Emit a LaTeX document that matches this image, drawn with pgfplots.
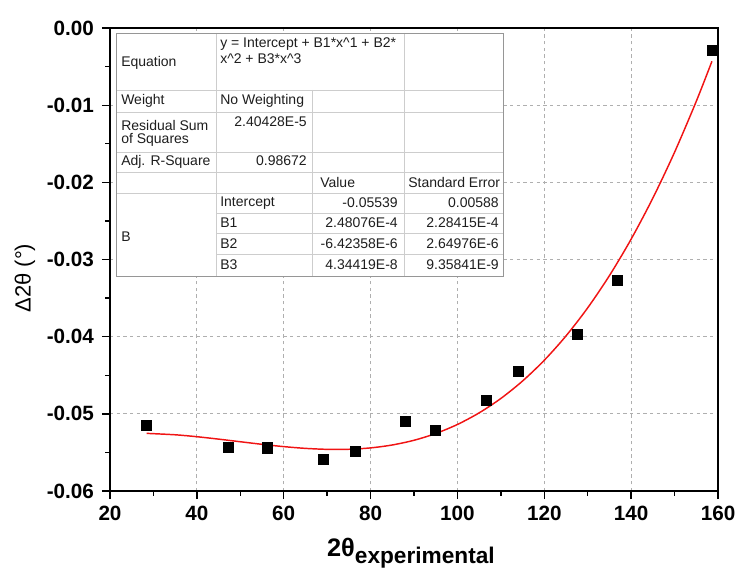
\documentclass[border=0pt]{standalone}
\usepackage{fontspec}
\setmainfont{Liberation Sans}
\usepackage{pgfplots}
\pgfplotsset{compat=1.18}
\definecolor{tline}{RGB}{205,205,205}
\definecolor{tborder}{RGB}{150,150,150}
\definecolor{gridc}{RGB}{175,175,175}
\definecolor{fitred}{RGB}{240,20,20}
\definecolor{ttext}{RGB}{30,30,30}
\begin{document}
\begin{tikzpicture}
\useasboundingbox (-82.5pt,-60.75pt) rectangle (470.25pt,368.25pt);
\begin{axis}[
  scale only axis, width=456pt, height=347.25pt,
  xmin=20, xmax=160, ymin=-0.06, ymax=0,
  xtick={20,40,60,80,100,120,140,160},
  ytick={-0.06,-0.05,-0.04,-0.03,-0.02,-0.01,0},
  minor x tick num=1, minor y tick num=1,
  scaled y ticks=false,
  tick align=outside, tick pos=left,
  major tick length=6pt, minor tick length=3.5pt,
  every tick/.style={black, line width=1pt},
  axis line style={line width=1.3pt},
  grid=major,
  major grid style={gridc, line width=0.6pt, dash pattern=on 2.5pt off 2.5pt},
  /pgf/number format/assume math mode=true,
  ticklabel style={font=\fontsize{15.5}{18}\selectfont\bfseries},
  yticklabel style={xshift=-2.5pt, /pgf/number format/.cd, fixed, fixed zerofill, precision=2},
  xticklabel style={yshift=-2pt, /pgf/number format/.cd, fixed},
  ylabel={Δ2θ (°)},
  ylabel style={font=\fontsize{16.5}{19}\selectfont, at={(axis description cs:-0.14,0.46)}, anchor=center},
  xlabel={\fontsize{19}{22}\selectfont\bfseries 2θ\raisebox{-5pt}{\fontsize{17}{20}\selectfont\bfseries experimental}},
  xlabel style={at={(axis description cs:0.495,-0.1425)}, anchor=base},
]
\addplot[fitred, line width=1.1pt, smooth] coordinates {
(28.44,-0.052531) (35,-0.052714) (40,-0.052964) (45,-0.053276) (50,-0.053615)
(55,-0.053950) (60,-0.054247) (65,-0.054474) (70,-0.054600) (75,-0.054590)
(80,-0.054413) (85,-0.054035) (90,-0.053425) (95,-0.052550) (100,-0.051376)
(105,-0.049873) (110,-0.048006) (115,-0.045743) (120,-0.043053) (125,-0.039901)
(130,-0.036257) (135,-0.032086) (140,-0.027357) (145,-0.022037) (150,-0.016093)
(155,-0.009492) (158.6,-0.004316)
};
\addplot[only marks, mark=square*, mark size=3.8pt, black] coordinates {
(28.44,-0.0515) (47.30,-0.0543) (56.12,-0.0544) (69.13,-0.0559) (76.38,-0.0548)
(88.03,-0.0510) (94.95,-0.0521) (106.71,-0.0482) (114.09,-0.0445) (127.55,-0.0397)
(136.89,-0.0327) (158.6,-0.0029)
};
\end{axis}
\begin{scope}[x=0.75pt, y=-0.75pt, shift={(-110,-491)}]
  \fill[white] (116,33) rectangle (503,276);
  \begin{scope}[tline, line width=0.6pt]
    \draw (116,90) -- (503,90);
    \draw (116,112) -- (503,112);
    \draw (116,152) -- (503,152);
    \draw (116,172) -- (503,172);
    \draw (116,193) -- (503,193);
    \draw (216,213) -- (503,213);
    \draw (216,233) -- (503,233);
    \draw (216,254) -- (503,254);
    \draw (216,33) -- (216,276);
    \draw (312,90) -- (312,276);
    \draw (404,33) -- (404,276);
  \end{scope}
  \draw[tborder, line width=0.7pt] (116,33) rectangle (503,276);
  \begin{scope}[every node/.style={inner sep=0pt, text=ttext, font=\fontsize{10.5}{12.5}\selectfont}]
    \node[anchor=west] at (121,63) {Equation};
    \node[anchor=west] at (220,44) {y = Intercept + B1*x\^{}1 + B2*};
    \node[anchor=west] at (220,59) {x\^{}2 + B3*x\^{}3};
    \node[anchor=west] at (121,101) {Weight};
    \node[anchor=west] at (220,101) {No Weighting};
    \node[anchor=west] at (121,125) {Residual Sum};
    \node[anchor=west] at (121,140) {of Squares};
    \node[anchor=east] at (307,122) {2.40428E-5};
    \node[anchor=west] at (121,162) {Adj. R-Square};
    \node[anchor=east] at (307,161) {0.98672};
    \node[anchor=west] at (320,182) {Value};
    \node[anchor=west] at (408,182) {Standard Error};
    \node[anchor=west] at (121,237) {B};
    \node[anchor=west] at (220,203) {Intercept};
    \node[anchor=east] at (398,203) {-0.05539};
    \node[anchor=east] at (499,203) {0.00588};
    \node[anchor=west] at (220,223) {B1};
    \node[anchor=east] at (398,223) {2.48076E-4};
    \node[anchor=east] at (499,223) {2.28415E-4};
    \node[anchor=west] at (220,244) {B2};
    \node[anchor=east] at (398,244) {-6.42358E-6};
    \node[anchor=east] at (499,244) {2.64976E-6};
    \node[anchor=west] at (220,265) {B3};
    \node[anchor=east] at (398,265) {4.34419E-8};
    \node[anchor=east] at (499,265) {9.35841E-9};
  \end{scope}
\end{scope}
\end{tikzpicture}
\end{document}
